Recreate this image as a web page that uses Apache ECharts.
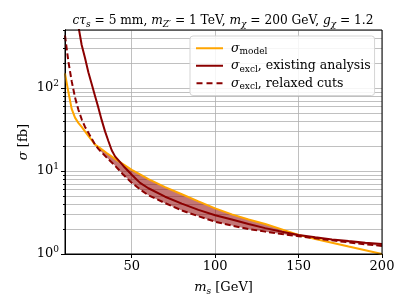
<!DOCTYPE html>
<html><head><meta charset="utf-8">
<script src="https://cdn.jsdelivr.net/npm/echarts@6/dist/echarts.min.js"></script>
<style>html,body{margin:0;padding:0;background:#fff}#c{width:411px;height:308px}</style>
</head><body><div id="c"></div>
<script>
// ---- data ----
const massGrid     = [10,12,14,16,18,20,22,24,26,28,30,35,40,45,50,55,60,70,80,90,100,110,120,130,140,150,160,170,180,190,200];
const sigmaModel   = [150,90,56,44,38,34,30,26.5,23.5,20.8,19.5,16.5,14,12,10.3,9.1,8.0,6.4,5.25,4.3,3.55,3.0,2.6,2.3,1.98,1.7,1.52,1.37,1.23,1.11,1.0];
const sigmaRelaxed = [430,210,121,77,55,42,34,29,24.5,20.8,18.5,14.5,11.6,9.0,7.2,6.0,5.1,4.1,3.35,2.85,2.45,2.2,2.0,1.86,1.74,1.64,1.55,1.46,1.38,1.31,1.25];
const massExisting  = [18,20,22,24,26,28,30,32,34,36,38,40,45,50,55,60,70,80,90,100,110,120,130,140,150,160,170,180,190,200];
const sigmaExisting = [560,330,230,155,112,80,58,41,30,23,17.8,15,11.5,9.0,7.2,6.2,4.9,4.05,3.4,2.93,2.6,2.3,2.05,1.85,1.69,1.59,1.5,1.43,1.37,1.32];
const xTickValues = [50,100,150,200];
const yMajorTicks = [1,10,100];
const yMinorTicks = [2,3,4,5,6,7,8,9,20,30,40,50,60,70,80,90,200,300,400,500];
const seriesNames = ['model','existing','relaxed'];

const zip = (xs, ys) => xs.map((x,i)=>[x, ys[i]]);
const L = Math.log10;
function fillBetween(xs, up, lo){
  const polys=[]; let cur=null;
  const cross = (i) => {
    const dp = L(up[i-1])-L(lo[i-1]), d = L(up[i])-L(lo[i]);
    const t = dp/(dp-d);
    return [xs[i-1]+t*(xs[i]-xs[i-1]), Math.pow(10, L(lo[i-1])+t*(L(lo[i])-L(lo[i-1])))];
  };
  for(let i=0;i<xs.length;i++){
    const d = L(up[i])-L(lo[i]);
    if(d>=0){
      if(!cur){ cur={u:[],l:[]}; if(i>0){const c=cross(i); cur.u.push(c); cur.l.push(c);} }
      cur.u.push([xs[i],up[i]]); cur.l.push([xs[i],lo[i]]);
    } else if(cur){
      const c=cross(i); cur.u.push(c); cur.l.push(c); polys.push(cur); cur=null;
    }
  }
  if(cur) polys.push(cur);
  return polys.map(p=>p.u.concat(p.l.slice().reverse()));
}
const polysA = fillBetween(massGrid, sigmaModel, sigmaRelaxed);
const tailX = massGrid.filter(x=>x>=150);
const tailE = tailX.map(x=>sigmaExisting[massExisting.indexOf(x)]);
const tailR = tailX.map(x=>sigmaRelaxed[massGrid.indexOf(x)]);
const polysB = fillBetween(tailX, tailE, tailR);
const polys = polysA.concat(polysB);

const FONT = 'DejaVu Serif';
const DARKRED = '#8b0000', ORANGE = '#ffa500';
function makeRich(fs){
  const s = Math.round(fs*0.7);
  return {
    i:   {fontFamily:FONT, fontSize:fs, fontStyle:'italic', lineHeight:fs+4, color:'#000'},
    n:   {fontFamily:FONT, fontSize:fs, lineHeight:fs+4, color:'#000'},
    sub: {fontFamily:FONT, fontSize:s, lineHeight:s, verticalAlign:'bottom', color:'#000'},
    subi:{fontFamily:FONT, fontSize:s, lineHeight:s, verticalAlign:'bottom', fontStyle:'italic', color:'#000'},
    sup: {fontFamily:FONT, fontSize:s, lineHeight:s, verticalAlign:'top', color:'#000'}
  };
}
const rich = makeRich(13);
const titleRich = makeRich(12.2);
const legendRich = makeRich(12.5);
const legendText = {
  model: '{i|σ}{sub|model}',
  existing: '{i|σ}{sub|excl}{n|, existing analysis}',
  relaxed: '{i|σ}{sub|excl}{n|, relaxed cuts}'
};
const solidIcon  = 'path://M0,0h27v2h-27z';
const dashedIcon = 'path://M0,0h6v2h-6zM10,0h6v2h-6zM20,0h6v2h-6z';

const chart = echarts.init(document.getElementById('c'), null, {renderer:'canvas'});
const gridLine = {show:true, lineStyle:{color:'#b0b0b0', width:0.8}};
chart.setOption({
  animation:false,
  backgroundColor:'#fff',
  grid:{left:65, right:29, top:30, bottom:54, show:true, borderColor:'#000', borderWidth:1, backgroundColor:'transparent', z:10},
  graphic:[{
    type:'text', x:223, y:13, z:100,
    style:{text:'{i|cτ}{subi|s}{n| = 5 mm, }{i|m}{subi|Z′}{n| = 1 TeV, }{i|m}{subi|χ}{n| = 200 GeV, }{i|g}{subi|χ}{n| = 1.2}', rich:titleRich, align:'center', verticalAlign:'top'}
  }],
  legend:{
    data:[
      {name:'model', icon:solidIcon},
      {name:'existing', icon:solidIcon},
      {name:'relaxed', icon:dashedIcon}
    ],
    orient:'vertical', left:190, top:36,
    padding:[4,4,4,6], itemGap:1, itemWidth:27, itemHeight:2,
    backgroundColor:'rgba(255,255,255,0.85)', borderColor:'#d5d5d5', borderWidth:1, borderRadius:3,
    formatter:n=>legendText[n],
    textStyle:{fontFamily:FONT, fontSize:12.5, lineHeight:16, padding:[0,0,0,3], rich:legendRich},
    z:50
  },
  xAxis:{
    type:'value', min:10, max:200,
    name:'{i|m}{subi|s}{n| [GeV]}', nameLocation:'middle', nameGap:25, nameMoveOverlap:false,
    nameTextStyle:{rich:rich},
    axisLine:{show:true, onZero:false, lineStyle:{color:'#000', width:1}},
    axisTick:{show:true, length:4, customValues:xTickValues, lineStyle:{color:'#000'}},
    axisLabel:{customValues:xTickValues, fontFamily:FONT, fontSize:13, color:'#000', margin:6},
    splitLine:gridLine
  },
  yAxis:[{
    type:'log', logBase:10, min:1, max:500,
    axisLine:{show:true, lineStyle:{color:'#000', width:1}},
    axisTick:{show:true, length:2, customValues:yMinorTicks, lineStyle:{color:'#000'}},
    axisLabel:{show:false},
    splitLine:gridLine
  },{
    type:'log', logBase:10, min:1, max:500, position:'left',
    name:'{i|σ}{n| [fb]}', nameLocation:'middle', nameGap:33, nameRotate:90, nameMoveOverlap:false,
    nameTextStyle:{rich:rich},
    axisLine:{show:true, lineStyle:{color:'#000', width:1}},
    axisTick:{show:true, length:4, customValues:yMajorTicks, lineStyle:{color:'#000'}},
    axisLabel:{customValues:yMajorTicks, margin:6, formatter:v=>'{n|10}{sup|'+Math.round(L(v))+'}', rich:rich},
    splitLine:gridLine
  }],
  series:[
    {type:'custom', name:'fill', silent:true, z:1, clip:true,
     renderItem:(params, api)=>({type:'polygon', shape:{points:polys[params.dataIndex].map(p=>api.coord(p))}, style:{fill:'rgba(145,5,5,0.55)'}}),
     data:polys.map(p=>[p[0][0], p[0][1]])},
    {type:'line', name:'model', data:zip(massGrid, sigmaModel), symbol:'none', z:3, clip:true,
     lineStyle:{color:ORANGE, width:2}, itemStyle:{color:ORANGE}},
    {type:'line', name:'existing', data:zip(massExisting, sigmaExisting), symbol:'none', z:4, clip:true,
     lineStyle:{color:DARKRED, width:2}, itemStyle:{color:DARKRED}},
    {type:'line', name:'relaxed', data:zip(massGrid, sigmaRelaxed), symbol:'none', z:5, clip:true,
     lineStyle:{color:DARKRED, width:2, type:[6,3]}, itemStyle:{color:DARKRED}}
  ]
});
</script></body></html>
